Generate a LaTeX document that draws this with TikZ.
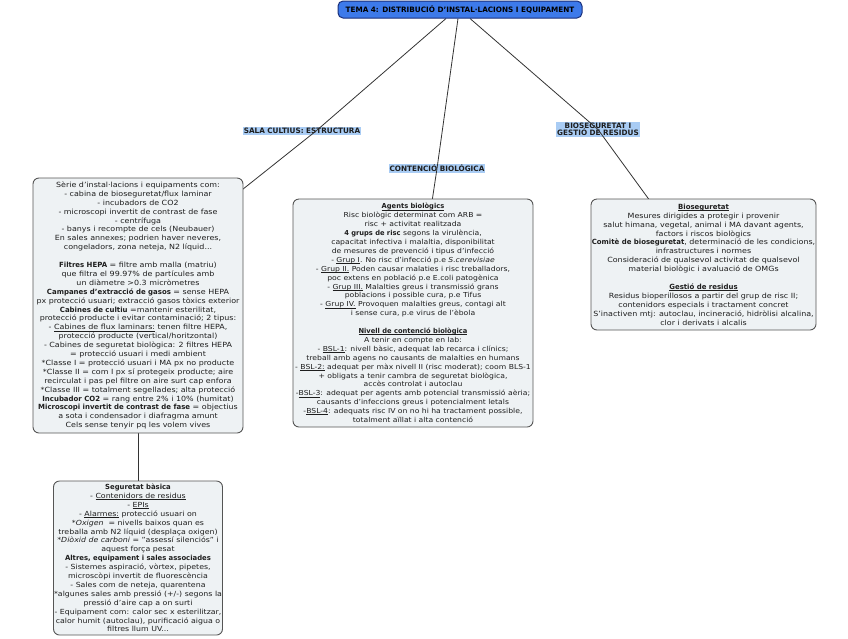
\documentclass[tikz,border=0pt]{standalone}
\usepackage{fontspec}
\setmainfont{DejaVu Sans}[UprightFeatures={FakeStretch=1.12},ItalicFeatures={FakeStretch=1.12},BoldFeatures={FakeStretch=0.98}]
\usetikzlibrary{calc}
\pgfdeclarelayer{labelsL}
\pgfdeclarelayer{linesL}
\pgfsetlayers{labelsL,linesL,main}
\definecolor{boxfill}{HTML}{EEF2F4}
\definecolor{boxdraw}{HTML}{555555}
\definecolor{titlefill}{HTML}{3D7AEA}
\definecolor{titledraw}{HTML}{1A2F7A}
\definecolor{labelfill}{HTML}{A9CCF4}
\definecolor{txt}{HTML}{1E1E1E}
\newcommand\ulx[1]{\setbox0=\hbox{#1}\rlap{\rule[-1.3pt]{\wd0}{0.45pt}}\box0\relax}
\begin{document}
\begin{tikzpicture}[x=1pt,y=-1pt,
  infobox/.style={draw=boxdraw, fill=boxfill, line width=0.9pt, rounded corners=6pt,
    align=center, inner sep=0pt, font=\fontsize{7.1}{8.9}\selectfont, text=txt},
  topic/.style={fill=labelfill, inner xsep=1pt, inner ysep=0.8pt, align=center,
    font=\bfseries\fontsize{7.4}{7.6}\selectfont, text=txt},
  titlebox/.style={draw=titledraw, fill=titlefill, line width=1pt, rounded corners=5pt,
    font=\bfseries\fontsize{7.4}{7.6}\selectfont, text=black, inner sep=0pt},
  conn/.style={draw=black!80, line width=0.8pt}]
\useasboundingbox (0,0) rectangle (848,638);

\node[titlebox, minimum width=244pt, minimum height=17pt] (title) at (460,9.5)
  {TEMA 4: DISTRIBUCIÓ D'INSTAL·LACIONS I EQUIPAMENT};

\begin{pgfonlayer}{labelsL}
\node[topic] (sala) at (302,131) {SALA CULTIUS: ESTRUCTURA};
\node[topic] (cont) at (437,168.5) {CONTENCIÓ BIOLÓGICA};
\node[topic] (bio) at (598,129.5) {BIOSEGURETAT I\\GESTIÓ DE RESIDUS};
\end{pgfonlayer}

\node[infobox, minimum width=210pt, minimum height=255pt] (lbox) at (138,305.5) {%
Sèrie d'instal·lacions i equipaments com:\\
- cabina de bioseguretat/flux laminar\\
- incubadors de CO2\\
- microscopi invertit de contrast de fase\\
- centrífuga\\
- banys i recompte de cels (Neubauer)\\
En sales annexes; podrien haver neveres,\\
congeladors, zona neteja, N2 líquid...\\[8.9pt]
\textbf{Filtres HEPA} = filtre amb malla (matriu)\\
que filtra el 99.97\% de partícules amb\\
un diàmetre >0.3 micròmetres\\
\textbf{Campanes d'extracció de gasos} = sense HEPA\\
px protecció usuari; extracció gasos tòxics exterior\\
\textbf{Cabines de cultiu} =mantenir esterilitat,\\
protecció producte i evitar contaminació; 2 tipus:\\
- \ulx{Cabines de flux laminars:} tenen filtre HEPA,\\
protecció producte (vertical/horitzontal)\\
- Cabines de seguretat biològica: 2 filtres HEPA\\
= protecció usuari i medi ambient\\
{*}Classe I = protecció usuari i MA px no producte\\
{*}Classe II = com I px sí protegeix producte; aire\\
recirculat i pas pel filtre on aire surt cap enfora\\
{*}Classe III = totalment segellades; alta protecció\\
\textbf{Incubador CO2} = rang entre 2\% i 10\% (humitat)\\
\textbf{Microscopi invertit de contrast de fase} = objectius\\
a sota i condensador i diafragma amunt\\
Cels sense tenyir pq les volem vives};

\node[infobox, minimum width=169pt, minimum height=154pt, font=\fontsize{7}{8.9}\selectfont] (bbox) at (138,558) {%
\textbf{Seguretat bàsica}\\
- \ulx{Contenidors de residus}\\
- \ulx{EPIs}\\
- \ulx{Alarmes:} protecció usuari on\\
{*}\textit{Oxigen}\ \ = nivells baixos quan es\\
treballa amb N2 líquid (desplaça oxigen)\\
{*}\textit{Diòxid de carboni} = "assessí silenciós" i\\
aquest força pesat\\
\textbf{Altres, equipament i sales associades}\\
- Sistemes aspiració, vòrtex, pipetes,\\
microscòpi invertit de fluorescència\\
- Sales com de neteja, quarentena\\
{*}algunes sales amb pressió (+/-) segons la\\
pressió d'aire cap a on surti\\
- Equipament com: calor sec x esterilitzar,\\
calor humit (autoclau), purificació aigua o\\
filtres llum UV...};

\node[infobox, minimum width=240pt, minimum height=228pt, font=\fontsize{6.85}{8.9}\selectfont] (mbox) at (413,313) {%
\textbf{\ulx{Agents biològics}}\\
Risc biològic determinat com ARB =\\
risc + activitat realitzada\\
\textbf{4 grups de risc} segons la virulència,\\
capacitat infectiva i malaltia, disponibilitat\\
de mesures de prevenció i tipus d'infecció\\
- \ulx{Grup I}. No risc d'infecció p.e \textit{S.cerevisiae}\\
- \ulx{Grup II.} Poden causar malaties i risc treballadors,\\
poc extens en població p.e E.coli patogènica\\
- \ulx{Grup III.} Malalties greus i transmissió grans\\
poblacions i possible cura, p.e Tifus\\
- \ulx{Grup IV.} Provoquen malalties greus, contagi alt\\
i sense cura, p.e virus de l'èbola\\[8.9pt]
\textbf{\ulx{Nivell de contenció biològica}}\\
A tenir en compte en lab:\\
- \ulx{BSL-1}: nivell bàsic, adequat lab recarca i clínics;\\
treball amb agens no causants de malalties en humans\\
- \ulx{BSL-2:} adequat per màx nivell II (risc moderat); coom BLS-1\\
+ obligats a tenir cambra de seguretat biològica,\\
accès controlat i autoclau\\
-\ulx{BSL-3}: adequat per agents amb potencial transmissió aèria;\\
causants d'infeccions greus i potencialment letals\\
-\ulx{BSL-4}: adequats risc IV on no hi ha tractament possible,\\
totalment aïllat i alta contenció};

\node[infobox, minimum width=225pt, minimum height=131pt] (rbox) at (703.5,264.5) {%
\textbf{\ulx{Bioseguretat}}\\
Mesures dirigides a protegir i provenir\\
salut himana, vegetal, animal i MA davant agents,\\
factors i riscos biològics\\
\textbf{Comitè de bioseguretat}, determinació de les condicions,\\
infrastructures i normes\\
Consideració de qualsevol activitat de qualsevol\\
material biològic i avaluació de OMGs\\[8.9pt]
\textbf{\ulx{Gestió de residus}}\\
Residus bioperillosos a partir del grup de risc II;\\
contenidors especials i tractament concret\\
S'inactiven mtj: autoclau, incineració, hidròlisi alcalina,\\
clor i derivats i alcalis};

\coordinate (tl) at ($(title.south)+(-14,0)$);
\coordinate (tm) at ($(title.south)+(-2,0)$);
\coordinate (tr) at ($(title.south)+(10,0)$);

\begin{pgfonlayer}{linesL}
\draw[conn] (tl) -- ($(sala.center)+(14,0)$) -- ($(lbox.north east)+(-1,12)$);
\draw[conn] (tm) -- (cont.center) -- ($(mbox.north)+(19,3)$);
\draw[conn] (tr) -- (bio.center) -- ($(rbox.north)+(-53,3)$);
\draw[conn] (lbox.south) -- (bbox.north);
\end{pgfonlayer}
\end{tikzpicture}
\end{document}
